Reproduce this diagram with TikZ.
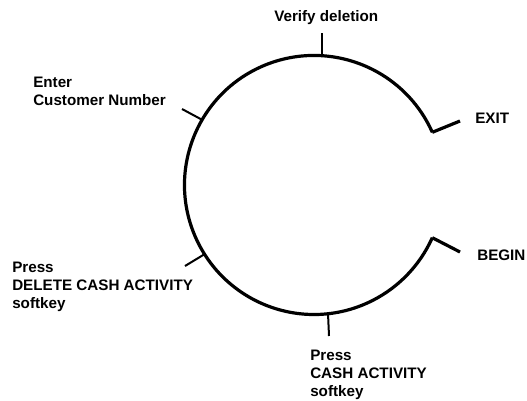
\documentclass[tikz,border=0pt]{standalone}
\usepackage{fontspec}
\setmainfont{Liberation Sans}
\begin{document}
\begin{tikzpicture}[x=0.75pt,y=-0.75pt,
  ring/.style={line width=2.4pt,line cap=butt},
  tick/.style={line width=1.5pt},
  label/.style={inner sep=0pt,anchor=base west,align=left,
    font=\bfseries\fontsize{11.4}{13.3}\selectfont}]
  \useasboundingbox[fill=white] (0,0) rectangle (527,400);

  % the cycle, open on the right between EXIT and BEGIN
  \coordinate (c) at (314,185);
  \coordinate (exitend) at (432.3,132.3);
  \coordinate (beginend) at (432.3,237.7);
  \draw[ring] (exitend) arc[start angle=-24,end angle=-336,radius=129.5];
  \coordinate (exittip) at (460,121);
  \coordinate (begintip) at (460,252);
  \draw[ring,line join=miter] (exitend) -- (exittip);
  \draw[ring,line join=miter] (beginend) -- (begintip);

  % step labels (base anchor sits on the last line)
  \node[label] (verify) at (274,21) {Verify deletion};
  \node[label] (exit) at (475,123) {EXIT};
  \node[label] (begin) at (477,260) {BEGIN};
  \node[label] (enter) at (33,105) {Enter\\Customer Number};
  \node[label] (delete) at (12,308) {Press\\DELETE CASH ACTIVITY\\softkey};
  \node[label] (cash) at (310,396) {Press\\CASH ACTIVITY\\softkey};

  % tick marks joining the labels to the cycle
  \coordinate (tverify) at (322,33);
  \coordinate (pverify) at (322,56);
  \coordinate (tenter) at (182,109);
  \coordinate (penter) at (202.5,120);
  \coordinate (tdelete) at (185,266);
  \coordinate (pdelete) at (204,254.5);
  \coordinate (tcash) at (329,336);
  \coordinate (pcash) at (328,313.5);
  \draw[tick] (pverify) -- (tverify);
  \draw[tick] (penter) -- (tenter);
  \draw[tick] (pdelete) -- (tdelete);
  \draw[tick] (pcash) -- (tcash);
\end{tikzpicture}
\end{document}
